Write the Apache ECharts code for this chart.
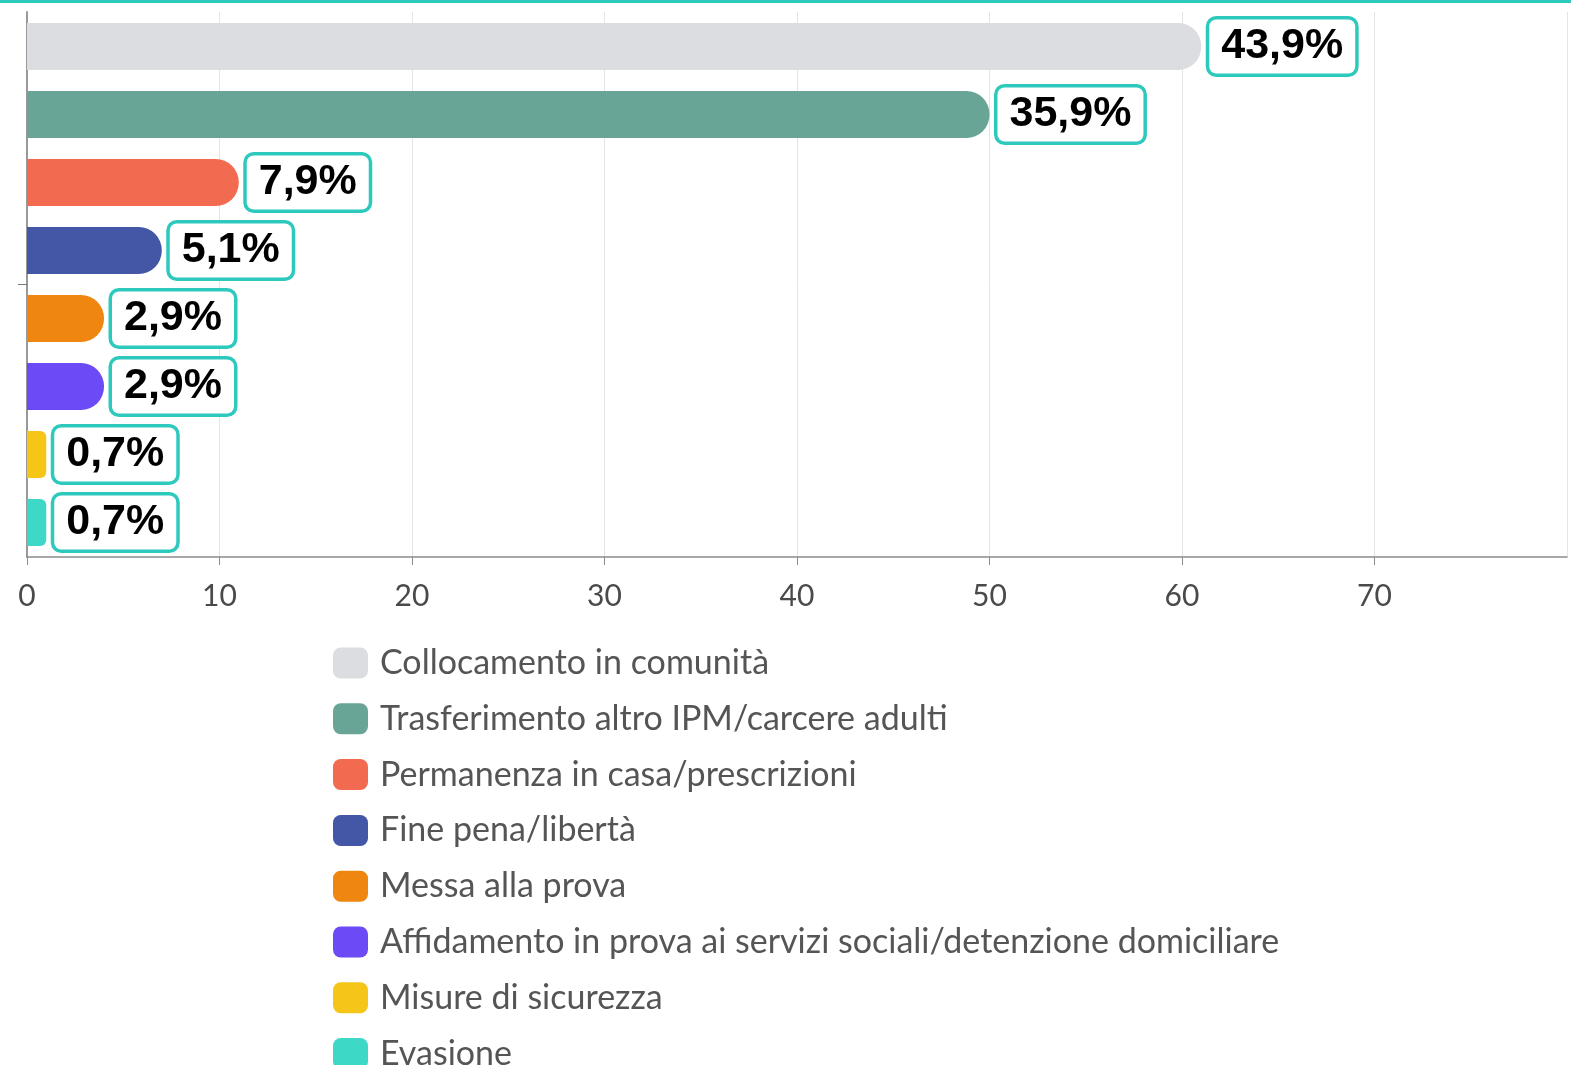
<!DOCTYPE html>
<html>
<head>
<meta charset="utf-8">
<script src="https://cdn.jsdelivr.net/npm/echarts@6/dist/echarts.min.js"></script>
<style>
  html, body { margin: 0; padding: 0; background: #fff; }
  #chart { width: 1571px; height: 1065px; }
</style>
</head>
<body>
<div id="chart"></div>
<script>
// Data
const seriesNames = [
  'Collocamento in comunità',
  'Trasferimento altro IPM/carcere adulti',
  'Permanenza in casa/prescrizioni',
  'Fine pena/libertà',
  'Messa alla prova',
  'Affidamento in prova ai servizi sociali/detenzione domiciliare',
  'Misure di sicurezza',
  'Evasione'
];
const seriesValues = [61, 50, 11, 7, 4, 4, 1, 1];
const percentLabels = ['43,9%', '35,9%', '7,9%', '5,1%', '2,9%', '2,9%', '0,7%', '0,7%'];
const seriesColors = ['#dcdde1', '#68a596', '#f26a4f', '#4357a6', '#ef860f', '#6c4bf7', '#f5c518', '#3dd8c6'];
const xTicks = [0, 10, 20, 30, 40, 50, 60, 70, 80];

const chart = echarts.init(document.getElementById('chart'));

const series = seriesNames.map((name, i) => {
  const r = seriesValues[i] < 2 ? 6 : 23;
  return {
    name: name,
    type: 'bar',
    data: [seriesValues[i]],
    barWidth: 47,
    barGap: '44.7%',
    itemStyle: { color: seriesColors[i], borderRadius: [0, r, r, 0] },
    label: {
      show: true,
      position: 'right',
      distance: 8,
      formatter: () => percentLabels[i],
      fontFamily: 'Liberation Sans, Arial, sans-serif',
      fontWeight: 'bold',
      fontSize: 43,
      lineHeight: 46,
      color: '#000',
      backgroundColor: '#fff',
      borderColor: '#2ec9bd',
      borderWidth: 3.5,
      borderRadius: 7,
      padding: [4, 12]
    }
  };
});

chart.setOption({
  animation: false,
  backgroundColor: '#fff',
  grid: { left: 27, right: 4, top: 12, bottom: 508, containLabel: false },
  xAxis: {
    type: 'value',
    min: xTicks[0],
    max: xTicks[xTicks.length - 1],
    interval: 10,
    axisLine: { show: true, lineStyle: { color: '#8c8c8c', width: 1.5 } },
    axisTick: { show: true, length: 8, lineStyle: { color: '#8c8c8c' } },
    splitLine: { show: true, lineStyle: { color: '#e4e4e4', width: 1 } },
    axisLabel: {
      showMaxLabel: false,
      fontFamily: 'Lato, sans-serif',
      fontSize: 30,
      color: '#4a4a4a',
      margin: 24
    }
  },
  yAxis: {
    type: 'category',
    inverse: true,
    data: [''],
    axisLine: { show: true, lineStyle: { color: '#999', width: 2 } },
    axisTick: { show: true, alignWithLabel: true, length: 9, lineStyle: { color: '#777' } },
    axisLabel: { show: false }
  },
  legend: {
    orient: 'vertical',
    left: 333,
    top: 646,
    height: 440,
    padding: 0,
    itemWidth: 35,
    itemHeight: 31,
    itemGap: 21.8,
    icon: 'roundRect',
    data: seriesNames,
    textStyle: {
      fontFamily: 'Lato, sans-serif',
      fontSize: 34,
      color: '#555',
      padding: [0, 0, 0, 7]
    }
  },
  graphic: [{
    type: 'line',
    shape: { x1: 0, y1: 1.5, x2: 1571, y2: 1.5 },
    style: { stroke: '#2ec9bd', lineWidth: 3 },
    silent: true
  }],
  series: series
});
</script>
</body>
</html>
